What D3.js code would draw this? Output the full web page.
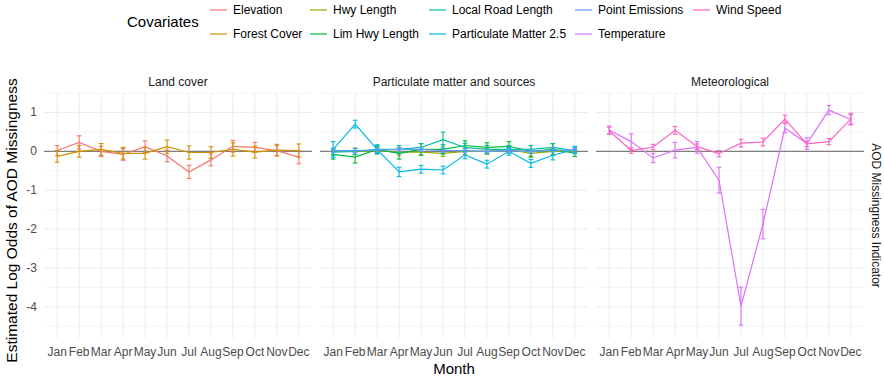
<!DOCTYPE html>
<meta charset="utf-8">
<title>AOD Missingness</title>
<style>
body { margin: 0; background: #fff; font-family: 'Liberation Sans', Arial, sans-serif; }
.grid line { stroke: #ebebeb; }
.grid line.minor { stroke: #f0f0f0; stroke-width: 0.7px; }
</style>
<body>
<script src="https://d3js.org/d3.v7.min.js"></script>
<script>
// data
var months = ["Jan", "Feb", "Mar", "Apr", "May", "Jun", "Jul", "Aug", "Sep", "Oct", "Nov", "Dec"];
var panels = ["Land cover", "Particulate matter and sources", "Meteorological"];
var covariates = ["Elevation", "Forest Cover", "Hwy Length", "Lim Hwy Length", "Local Road Length",
                  "Particulate Matter 2.5", "Point Emissions", "Temperature", "Wind Speed"];
var covPanel = [0, 0, 1, 1, 1, 1, 1, 2, 2];
var palette = ["#F8766D", "#D39200", "#93AA00", "#00BA38", "#00C19F", "#00B9E3", "#619CFF", "#DB72FB", "#FF61C3"];
var yTicks = [1, 0, -1, -2, -3, -4];

var elevation    = [0.02, 0.23, 0.00, -0.08, 0.12, -0.12, -0.53, -0.22, 0.13, 0.10, 0.02, -0.15];
var elevationErr = [0.13, 0.17, 0.13, 0.15, 0.15, 0.15, 0.17, 0.15, 0.15, 0.13, 0.13, 0.17];
var forest       = [-0.13, 0.00, 0.05, -0.05, -0.05, 0.12, -0.03, -0.03, 0.05, -0.02, 0.03, 0.02];
var forestErr    = [0.15, 0.15, 0.15, 0.15, 0.15, 0.17, 0.17, 0.15, 0.17, 0.15, 0.15, 0.17];
var hwy          = [0.00, 0.00, 0.02, -0.02, -0.02, -0.05, 0.00, 0.00, 0.05, -0.05, 0.00, 0.00];
var hwyErr       = [0.08, 0.08, 0.08, 0.08, 0.08, 0.08, 0.08, 0.08, 0.08, 0.08, 0.08, 0.05];
var limHwy       = [-0.08, -0.15, 0.05, -0.05, 0.05, 0.05, 0.15, 0.10, 0.13, 0.00, 0.05, -0.05];
var limHwyErr    = [0.12, 0.15, 0.10, 0.15, 0.15, 0.12, 0.12, 0.12, 0.12, 0.15, 0.15, 0.08];
var localRoad    = [-0.02, 0.00, 0.05, 0.05, 0.10, 0.30, 0.10, 0.05, 0.05, 0.05, 0.10, 0.02];
var localRoadErr = [0.08, 0.08, 0.08, 0.10, 0.10, 0.19, 0.10, 0.10, 0.10, 0.10, 0.10, 0.08];
var pm25         = [0.05, 0.70, 0.05, -0.53, -0.46, -0.48, -0.09, -0.33, 0.00, -0.31, -0.10, 0.05];
var pm25Err      = [0.20, 0.10, 0.12, 0.12, 0.10, 0.10, 0.10, 0.10, 0.10, 0.10, 0.12, 0.08];
var pointEm      = [0.02, 0.02, 0.03, 0.05, 0.05, 0.02, 0.02, 0.00, 0.02, 0.00, 0.03, 0.03];
var pointEmErr   = [0.05, 0.05, 0.05, 0.05, 0.05, 0.05, 0.05, 0.05, 0.05, 0.05, 0.05, 0.05];
var temperature  = [0.55, 0.25, -0.17, 0.03, 0.10, -0.74, -3.98, -1.87, 0.60, 0.20, 1.06, 0.82];
var temperatureErr = [0.10, 0.20, 0.12, 0.20, 0.15, 0.33, 0.49, 0.38, 0.12, 0.15, 0.12, 0.12];
var wind         = [0.53, 0.02, 0.11, 0.54, 0.12, -0.06, 0.21, 0.24, 0.83, 0.19, 0.25, 0.83];
var windErr      = [0.09, 0.07, 0.07, 0.10, 0.07, 0.08, 0.10, 0.10, 0.10, 0.07, 0.08, 0.15];

var estimates = [elevation, forest, hwy, limHwy, localRoad, pm25, pointEm, temperature, wind];
var errors = [elevationErr, forestErr, hwyErr, limHwyErr, localRoadErr, pm25Err, pointEmErr, temperatureErr, windErr];

var width = 884, height = 380;
var panelW = 268, gap = 8, plotLeft = 44, plotTop = 93, plotBottom = 338;

var svg = d3.select("body").append("svg")
    .attr("width", width)
    .attr("height", height);

var y = d3.scaleLinear().domain([-4.8, 1.5]).range([plotBottom, plotTop]);
var color = d3.scaleOrdinal().domain(covariates).range(palette);

panels.forEach(function(title, p) {
    var x0 = plotLeft + p * (panelW + gap);
    var x = d3.scalePoint().domain(months).range([x0, x0 + panelW]).padding(0.6);
    var g = svg.append("g");

    // grid
    var grid = g.append("g").attr("class", "grid");
    grid.selectAll("line.minor")
        .data(d3.range(-4.5, 1.6, 1))
        .enter().append("line").attr("class", "minor")
        .attr("x1", x0).attr("x2", x0 + panelW)
        .attr("y1", function(d) { return y(d); }).attr("y2", function(d) { return y(d); });
    grid.selectAll("line.hmaj")
        .data(yTicks)
        .enter().append("line").attr("class", "hmaj")
        .attr("x1", x0).attr("x2", x0 + panelW)
        .attr("y1", function(d) { return y(d); }).attr("y2", function(d) { return y(d); });
    grid.selectAll("line.vmaj")
        .data(months)
        .enter().append("line").attr("class", "vmaj")
        .attr("x1", function(d) { return x(d); }).attr("x2", function(d) { return x(d); })
        .attr("y1", plotTop).attr("y2", plotBottom);

    // strip label
    g.append("text")
        .attr("x", x0 + panelW / 2).attr("y", 86)
        .attr("text-anchor", "middle")
        .attr("font-size", 12).attr("fill", "#1a1a1a")
        .text(title);

    // x tick labels
    g.selectAll("text.xt")
        .data(months)
        .enter().append("text").attr("class", "xt")
        .attr("x", function(d) { return x(d); }).attr("y", 356)
        .attr("text-anchor", "middle")
        .attr("font-size", 12).attr("fill", "#4d4d4d")
        .text(function(d) { return d; });

    // zero line
    g.append("line")
        .attr("x1", x0).attr("x2", x0 + panelW)
        .attr("y1", y(0)).attr("y2", y(0))
        .attr("stroke", "#7f7f7f").attr("stroke-width", 1.2);

    var line = d3.line()
        .x(function(d, i) { return x(months[i]); })
        .y(function(d) { return y(d); });

    covariates.forEach(function(name, c) {
        if (covPanel[c] !== p) return;
        var col = color(name);
        g.append("path")
            .attr("d", line(estimates[c]))
            .attr("fill", "none").attr("stroke", col).attr("stroke-width", 1.2);
        var eb = g.append("g").attr("stroke", col).attr("stroke-width", 1.1);
        estimates[c].forEach(function(v, i) {
            var cx = x(months[i]), e = errors[c][i];
            eb.append("line").attr("x1", cx).attr("x2", cx).attr("y1", y(v - e)).attr("y2", y(v + e));
            eb.append("line").attr("x1", cx - 2.3).attr("x2", cx + 2.3).attr("y1", y(v - e)).attr("y2", y(v - e));
            eb.append("line").attr("x1", cx - 2.3).attr("x2", cx + 2.3).attr("y1", y(v + e)).attr("y2", y(v + e));
        });
    });
});

// y tick labels
svg.selectAll("text.yt")
    .data(yTicks)
    .enter().append("text").attr("class", "yt")
    .attr("x", 37).attr("y", function(d) { return y(d) + 4; })
    .attr("text-anchor", "end")
    .attr("font-size", 12).attr("fill", "#4d4d4d")
    .text(function(d) { return d; });

// axis titles
svg.append("text")
    .attr("transform", "translate(17," + ((plotTop + plotBottom) / 2 + 5) + ") rotate(-90)")
    .attr("text-anchor", "middle")
    .attr("font-size", 15.5).attr("fill", "#000")
    .text("Estimated Log Odds of AOD Missingness");

svg.append("text")
    .attr("x", plotLeft + (3 * panelW + 2 * gap) / 2).attr("y", 374)
    .attr("text-anchor", "middle")
    .attr("font-size", 15).attr("fill", "#000")
    .text("Month");

svg.append("text")
    .attr("transform", "translate(872," + ((plotTop + plotBottom) / 2) + ") rotate(90)")
    .attr("text-anchor", "middle")
    .attr("font-size", 12).attr("fill", "#1a1a1a")
    .text("AOD Missingness Indicator");

// legend
svg.append("text")
    .attr("x", 127).attr("y", 27)
    .attr("font-size", 15).attr("fill", "#000")
    .text("Covariates");

var colX = [210, 310, 429, 575, 693];
var legend = svg.append("g");
covariates.forEach(function(name, c) {
    var col = Math.floor(c / 2), row = c % 2;
    var lx = colX[col], ly = 10 + row * 24;
    legend.append("line")
        .attr("x1", lx).attr("x2", lx + 17)
        .attr("y1", ly).attr("y2", ly)
        .attr("stroke", color(name)).attr("stroke-width", 1.2);
    legend.append("text")
        .attr("x", lx + 23).attr("y", ly + 4)
        .attr("font-size", 12).attr("fill", "#000")
        .text(name);
});
</script>
</body>
</html>
